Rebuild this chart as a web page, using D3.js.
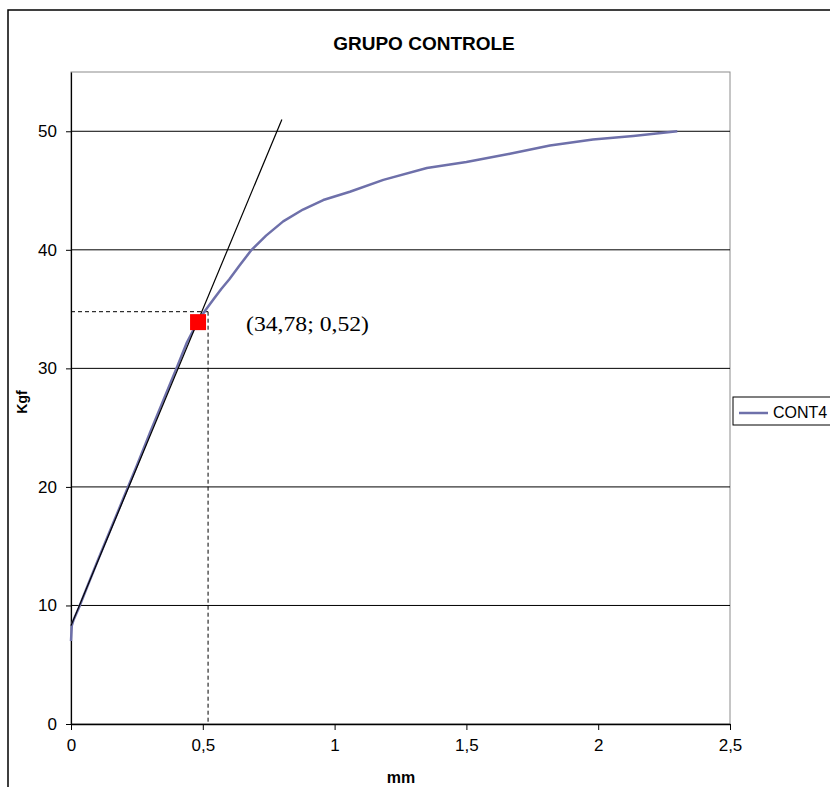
<!DOCTYPE html>
<html>
<head>
<meta charset="utf-8">
<script src="https://cdn.jsdelivr.net/npm/d3@7/dist/d3.min.js"></script>
<style>
  html, body { margin: 0; padding: 0; background: #fff; overflow: hidden; }
  svg { display: block; }
</style>
</head>
<body>
<svg id="chart" width="830" height="787"></svg>
<script>
// Load–displacement curve, specimen CONT4
const seriesName = "CONT4";
const displacementMm = [0, 0.003, 0.01, 0.03, 0.06, 0.1, 0.15, 0.2, 0.25, 0.3, 0.35, 0.4, 0.44, 0.48, 0.51, 0.54, 0.57, 0.6, 0.64, 0.685, 0.74, 0.805, 0.88, 0.957, 1.058, 1.185, 1.35, 1.5, 1.665, 1.817, 1.98, 2.133, 2.3];
const loadKgf = [7.0, 8.3, 8.8, 9.8, 11.5, 13.7, 16.4, 19.1, 21.8, 24.6, 27.3, 30.0, 32.2, 33.9, 34.9, 35.8, 36.7, 37.5, 38.7, 40.0, 41.2, 42.4, 43.4, 44.2, 44.9, 45.9, 46.9, 47.4, 48.1, 48.8, 49.3, 49.6, 50.0];

// Tangent to the linear (elastic) region
const tangentMm = [0, 0.8];
const tangentKgf = [8.3, 51.0];

// Proportional limit point and its annotation
const limitKgf = 34.78;
const limitMm = 0.52;
const markerMm = [0.482];
const markerKgf = [33.9];

const xTicks = [0, 0.5, 1, 1.5, 2, 2.5];
const xTickLabels = ["0", "0,5", "1", "1,5", "2", "2,5"];
const yTicks = [0, 10, 20, 30, 40, 50];

const svg = d3.select("#chart");
const fmtComma = v => String(v).replace(".", ",");
const sans = "Liberation Sans, Arial, sans-serif";

const x = d3.scaleLinear().domain([0, 2.5]).range([71, 730]);
const y = d3.scaleLinear().domain([0, 55]).range([724, 72]);

// outer chart frame
svg.append("rect")
  .attr("x", 8).attr("y", 10).attr("width", 860).attr("height", 800)
  .attr("fill", "#fff").attr("stroke", "#000").attr("stroke-width", 1.5);

// plot area frame
svg.append("rect")
  .attr("x", x(0)).attr("y", y(55))
  .attr("width", x(2.5) - x(0)).attr("height", y(0) - y(55))
  .attr("fill", "#fff").attr("stroke", "#8c8c8c").attr("stroke-width", 1);

// horizontal gridlines
svg.append("g").selectAll("line")
  .data(yTicks.filter(d => d > 0))
  .join("line")
  .attr("x1", x(0)).attr("x2", x(2.5))
  .attr("y1", d => y(d)).attr("y2", d => y(d))
  .attr("stroke", "#000").attr("stroke-width", 1);

// y axis
const yAxis = svg.append("g")
  .attr("transform", `translate(${x(0)},0)`)
  .call(d3.axisLeft(y).tickValues(yTicks).tickSize(5).tickSizeOuter(0).tickPadding(9).tickFormat(d => d));
yAxis.select(".domain").attr("stroke", "#000").attr("stroke-width", 1.2);
yAxis.selectAll("text").attr("font-family", sans).attr("font-size", 17).attr("fill", "#000");

// x axis
const xAxis = svg.append("g")
  .attr("transform", `translate(0,${y(0)})`)
  .call(d3.axisBottom(x).tickValues(xTicks).tickSize(6).tickSizeOuter(0).tickPadding(9)
    .tickFormat((d, i) => xTickLabels[i]));
xAxis.select(".domain").attr("stroke", "#000").attr("stroke-width", 1.5);
xAxis.selectAll("text").attr("font-family", sans).attr("font-size", 17).attr("fill", "#000");

// dashed guides to the proportional limit
svg.append("line")
  .attr("x1", x(0)).attr("x2", x(limitMm))
  .attr("y1", y(limitKgf)).attr("y2", y(limitKgf))
  .attr("stroke", "#000").attr("stroke-width", 1).attr("stroke-dasharray", "4,3");
svg.append("line")
  .attr("x1", x(limitMm)).attr("x2", x(limitMm))
  .attr("y1", y(limitKgf)).attr("y2", y(0))
  .attr("stroke", "#000").attr("stroke-width", 1).attr("stroke-dasharray", "4,3");

// measured curve
const curve = displacementMm.map((d, i) => [d, loadKgf[i]]);
svg.append("path")
  .datum(curve)
  .attr("fill", "none")
  .attr("stroke", "#6e70aa")
  .attr("stroke-width", 2.5)
  .attr("stroke-linejoin", "round")
  .attr("d", d3.line().x(d => x(d[0])).y(d => y(d[1])));

// tangent line
svg.append("line")
  .attr("x1", x(tangentMm[0])).attr("y1", y(tangentKgf[0]))
  .attr("x2", x(tangentMm[1])).attr("y2", y(tangentKgf[1]))
  .attr("stroke", "#000").attr("stroke-width", 1.2);

// red marker
svg.append("g").selectAll("rect")
  .data(markerMm.map((d, i) => [d, markerKgf[i]]))
  .join("rect")
  .attr("x", d => x(d[0]) - 8).attr("y", d => y(d[1]) - 8)
  .attr("width", 16).attr("height", 16)
  .attr("fill", "#ff0000");

// annotation text
svg.append("text")
  .attr("x", 246).attr("y", 331)
  .attr("font-family", "Liberation Serif, Times New Roman, serif")
  .attr("font-size", 22).attr("fill", "#000")
  .attr("textLength", 123).attr("lengthAdjust", "spacingAndGlyphs")
  .text(`(${fmtComma(limitKgf)}; ${fmtComma(limitMm)})`);

// title
svg.append("text")
  .attr("x", 424).attr("y", 50).attr("text-anchor", "middle")
  .attr("font-family", sans)
  .attr("font-size", 19).attr("font-weight", "bold")
  .text("GRUPO CONTROLE");

// axis titles
svg.append("text")
  .attr("x", 401).attr("y", 783).attr("text-anchor", "middle")
  .attr("font-family", sans)
  .attr("font-size", 16).attr("font-weight", "bold")
  .text("mm");
svg.append("text")
  .attr("transform", "translate(27,402) rotate(-90)")
  .attr("text-anchor", "middle")
  .attr("font-family", sans)
  .attr("font-size", 14).attr("font-weight", "bold")
  .text("Kgf");

// legend
const lg = svg.append("g").attr("transform", "translate(733,397)");
lg.append("rect").attr("width", 120).attr("height", 28)
  .attr("fill", "#fff").attr("stroke", "#000").attr("stroke-width", 1);
lg.append("line").attr("x1", 6).attr("x2", 35).attr("y1", 16).attr("y2", 16)
  .attr("stroke", "#6e70aa").attr("stroke-width", 2.5);
lg.append("text").attr("x", 40).attr("y", 21)
  .attr("font-family", sans)
  .attr("font-size", 16).text(seriesName);
</script>
</body>
</html>
